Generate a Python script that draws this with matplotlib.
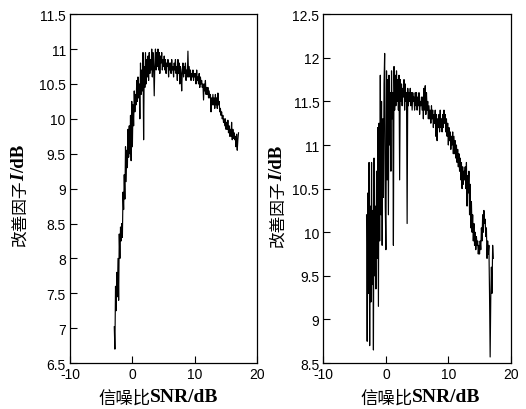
import numpy as np
import matplotlib
matplotlib.use("Agg")
import matplotlib.pyplot as plt

plt.rcParams['axes.unicode_minus'] = False
plt.rcParams['font.family'] = ['Liberation Sans', 'DejaVu Sans']

# Datos (SNR en dB, paso de 0.1 dB)

snr_izq = np.round(np.arange(-2.9, 17.05, 0.1), 1)
mejora_izq = [
    7.02, 6.7, 7.6, 7.25, 7.8, 7.45, 8.0, 7.4, 8.35, 8.0,
    8.45, 8.25, 8.5, 8.3, 8.95, 8.7, 9.2, 8.85, 9.6, 9.1,
    9.55, 9.3, 9.85, 9.45, 9.9, 9.5, 10.05, 9.4, 10.25, 9.6,
    10.2, 9.9, 10.4, 10.1, 10.35, 10.2, 10.55, 10.25, 10.6, 10.3,
    10.5, 10.0, 10.8, 10.35, 10.7, 10.4, 10.95, 9.7, 10.75, 10.45,
    10.95, 10.5, 10.85, 10.6, 10.9, 10.55, 10.95, 10.65, 10.85, 10.7,
    11.0, 10.6, 10.95, 10.75, 10.33, 10.8, 11.0, 10.7, 10.95, 10.75,
    11.0, 10.7, 10.95, 10.65, 10.9, 10.8, 10.95, 10.7, 10.85, 10.75,
    10.9, 10.7, 10.85, 10.65, 10.8, 10.75, 10.85, 10.6, 10.8, 10.7,
    10.8, 10.65, 10.85, 10.7, 10.75, 10.6, 10.8, 10.7, 10.85, 10.65,
    10.75, 10.55, 10.85, 10.65, 10.8, 10.5, 10.75, 10.65, 10.4, 10.7,
    10.8, 10.6, 10.75, 10.65, 10.8, 10.55, 10.7, 10.6, 10.97, 10.6,
    10.75, 10.6, 10.7, 10.55, 10.65, 10.6, 10.7, 10.55, 10.65, 10.6,
    10.65, 10.5, 10.7, 10.55, 10.6, 10.5, 10.65, 10.45, 10.6, 10.5,
    10.55, 10.45, 10.5, 10.27, 10.5, 10.4, 10.55, 10.35, 10.45, 10.35,
    10.45, 10.3, 10.4, 10.3, 10.35, 10.1, 10.3, 10.2, 10.35, 10.2,
    10.3, 10.15, 10.35, 10.2, 10.3, 10.15, 10.37, 10.2, 10.25, 10.1,
    10.15, 10.05, 10.1, 10.0, 10.05, 9.95, 10.0, 9.9, 10.0, 9.85,
    9.95, 9.85, 9.98, 9.8, 9.9, 9.75, 9.85, 9.75, 9.95, 9.7,
    9.85, 9.72, 9.8, 9.7, 9.75, 9.6, 9.78, 9.55, 9.7, 9.8,
]

snr_der = np.round(np.arange(-3.1, 17.25, 0.1), 1)
mejora_der = [
    10.2, 8.75, 10.45, 9.3, 10.8, 8.7, 10.3, 9.2, 10.8, 9.4,
    10.25, 8.65, 10.85, 9.5, 10.3, 9.35, 10.7, 9.7, 11.2, 9.15,
    11.25, 9.9, 11.8, 10.2, 11.5, 9.85, 11.3, 10.4, 11.7, 12.05,
    10.3, 9.8, 11.85, 10.6, 11.75, 10.2, 11.8, 11.0, 11.6, 10.7,
    11.85, 11.3, 11.6, 9.85, 11.9, 11.4, 11.8, 11.45, 11.85, 11.5,
    11.75, 11.4, 11.8, 10.6, 11.75, 11.5, 11.7, 11.45, 11.65, 11.55,
    11.75, 11.4, 11.7, 11.5, 11.6, 10.1, 11.65, 11.45, 11.6, 11.5,
    11.65, 11.45, 11.6, 11.4, 11.6, 11.5, 11.55, 11.4, 11.6, 11.45,
    11.6, 11.4, 11.55, 11.45, 11.6, 11.35, 11.5, 11.45, 11.55, 11.4,
    11.55, 11.3, 11.65, 11.4, 11.68, 11.35, 11.6, 11.4, 11.5, 11.3,
    11.45, 11.3, 11.4, 11.25, 11.45, 11.3, 11.4, 11.2, 11.35, 11.25,
    11.4, 11.1, 11.35, 11.05, 11.3, 11.2, 11.35, 11.15, 11.4, 11.2,
    11.3, 11.15, 11.35, 11.2, 11.4, 11.25, 11.35, 11.15, 11.3, 11.1,
    11.25, 11.0, 11.2, 11.05, 11.15, 10.95, 11.1, 11.0, 11.15, 10.9,
    11.1, 10.9, 11.05, 10.85, 11.0, 10.8, 10.95, 10.75, 10.9, 10.7,
    10.85, 10.6, 10.8, 10.5, 10.75, 10.55, 10.7, 10.6, 10.75, 10.5,
    10.8, 10.3, 10.65, 10.45, 10.7, 10.2, 10.55, 10.05, 10.35, 10.0,
    10.2, 9.9, 10.1, 9.85, 10.0, 9.8, 9.95, 9.85, 9.9, 9.75,
    9.85, 9.75, 9.9, 9.8, 10.05, 9.9, 10.2, 10.0, 10.25, 10.1,
    10.15, 9.95, 10.05, 9.7, 9.9, 9.75, 9.85, 9.3, 8.57, 9.25,
    9.6, 9.3, 9.85, 9.7,
]

ticks_x = [-10, 0, 10, 20]
ticks_y_izq = [6.5, 7, 7.5, 8, 8.5, 9, 9.5, 10, 10.5, 11, 11.5]
ticks_y_der = [8.5, 9, 9.5, 10, 10.5, 11, 11.5, 12, 12.5]

cjk = 'Noto Sans CJK SC'
serif = 'Liberation Serif'

fig = plt.figure(figsize=(5.26, 4.10), dpi=100)
ax1 = fig.add_axes([0.133, 0.112, 0.356, 0.851])
ax2 = fig.add_axes([0.615, 0.112, 0.356, 0.851])


def etiqueta_y(ax, x_frac, y_frac):
    # "改善因子" + I cursiva + "/dB", encadenados hacia arriba
    t1 = ax.text(x_frac, y_frac, '改善因子', transform=ax.transAxes, rotation=90,
                 ha='center', va='bottom', fontsize=12, family=cjk)
    t2 = ax.annotate('I', xy=(0.5, 1), xycoords=t1, rotation=90, ha='center',
                     va='bottom', fontsize=13.5, family=serif,
                     style='italic', weight='bold')
    ax.annotate('/dB', xy=(0.5, 1), xycoords=t2, rotation=90, ha='center',
                va='bottom', fontsize=13.5, family=serif, weight='bold')


def etiqueta_x(ax, x_frac, y_frac):
    t1 = ax.text(x_frac, y_frac, '信噪比', transform=ax.transAxes,
                 ha='left', va='bottom', fontsize=12.5, family=cjk)
    ax.annotate('SNR/dB', xy=(1, 0.08), xycoords=t1, ha='left', va='bottom',
                fontsize=14, family=serif, weight='bold')


def formato(ax, ticks_y, ylim):
    ax.set_xlim(-10, 20)
    ax.set_ylim(*ylim)
    ax.set_xticks(ticks_x)
    ax.set_yticks(ticks_y)
    ax.set_yticklabels([f'{v:g}' for v in ticks_y])
    ax.tick_params(direction='in', length=5, width=0.8, labelsize=10,
                   top=False, right=False, pad=3)
    ax.tick_params(axis='x', pad=3)
    for s in ax.spines.values():
        s.set_linewidth(0.9)


ax1.plot(snr_izq, mejora_izq, color='black', lw=0.85)
formato(ax1, ticks_y_izq, (6.5, 11.5))
etiqueta_y(ax1, -0.267, 0.335)
etiqueta_x(ax1, 0.15, -0.125)

ax2.plot(snr_der, mejora_der, color='black', lw=0.85)
formato(ax2, ticks_y_der, (8.5, 12.5))
etiqueta_y(ax2, -0.243, 0.333)
etiqueta_x(ax2, 0.195, -0.125)

fig.savefig('out.png', dpi=100)
